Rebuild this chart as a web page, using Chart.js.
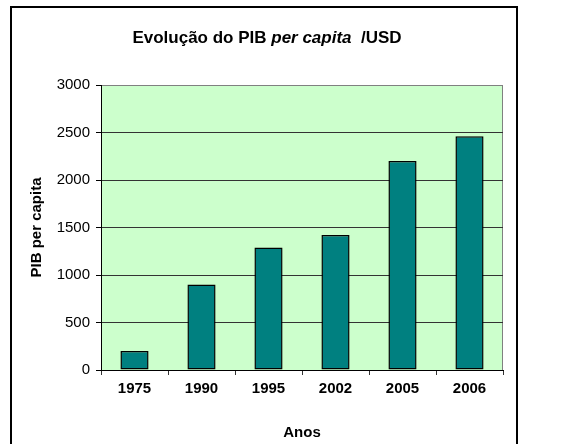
<!DOCTYPE html>
<html>
<head>
<meta charset="utf-8">
<script src="https://cdn.jsdelivr.net/npm/chart.js@4/dist/chart.umd.min.js"></script>
<style>
  html, body { margin: 0; padding: 0; background: #fff; overflow: hidden; }
  #wrap { position: relative; width: 587px; height: 444px; }
</style>
</head>
<body>
<div id="wrap"><canvas id="grafico" width="587" height="444"></canvas></div>
<script>
const anos = ["1975", "1990", "1995", "2002", "2005", "2006"];
const pibPerCapita = [200, 900, 1290, 1420, 2200, 2460];
const eixoY = { min: 0, max: 3000, passo: 500 };

const FONTE = "'Liberation Sans', Arial, sans-serif";

// moldura externa, fundo verde da área do gráfico e título com "per capita" em itálico
const decoracao = {
  id: "decoracao",
  beforeDraw(chart) {
    const { ctx, chartArea: a } = chart;
    ctx.save();
    ctx.fillStyle = "#fff";
    ctx.fillRect(0, 0, chart.width, chart.height);
    ctx.strokeStyle = "#000";
    ctx.lineWidth = 2;
    ctx.strokeRect(11, 7, 506, 460);
    ctx.fillStyle = "#CCFFCC";
    ctx.fillRect(a.left, a.top, a.right - a.left, a.bottom - a.top);
    ctx.strokeStyle = "#808080";
    ctx.lineWidth = 1;
    ctx.beginPath();
    ctx.moveTo(a.left, a.top + 0.5);
    ctx.lineTo(a.right - 0.5, a.top + 0.5);
    ctx.lineTo(a.right - 0.5, a.bottom);
    ctx.stroke();

    const partes = [
      { t: "Evolução do PIB ", f: "bold 17px " + FONTE },
      { t: "per capita", f: "italic bold 17px " + FONTE },
      { t: "  /USD", f: "bold 17px " + FONTE },
    ];
    let total = 0;
    partes.forEach((p) => {
      ctx.font = p.f;
      p.w = ctx.measureText(p.t).width;
      total += p.w;
    });
    let x = 267 - total / 2;
    ctx.fillStyle = "#000";
    ctx.textBaseline = "middle";
    ctx.textAlign = "left";
    partes.forEach((p) => {
      ctx.font = p.f;
      ctx.fillText(p.t, x, 38);
      x += p.w;
    });
    ctx.restore();
  },
};

new Chart(document.getElementById("grafico"), {
  type: "bar",
  data: {
    labels: anos,
    datasets: [
      {
        label: "PIB per capita",
        data: pibPerCapita,
        backgroundColor: "#008080",
        borderColor: "#000",
        borderWidth: 1.5,
        borderSkipped: false,
        barPercentage: 0.42,
        categoryPercentage: 1,
      },
    ],
  },
  options: {
    responsive: false,
    animation: false,
    layout: { padding: { top: 85, left: 18, right: 84, bottom: 0 } },
    plugins: {
      legend: { display: false },
      title: { display: false },
      tooltip: { enabled: false },
    },
    scales: {
      x: {
        afterFit(scale) {
          scale.height = 74;
        },
        grid: {
          display: true,
          drawOnChartArea: false,
          drawTicks: true,
          tickLength: 5,
          color: "#333",
          offset: true,
        },
        border: { color: "#000", width: 1 },
        ticks: {
          color: "#000",
          padding: 5,
          font: { family: FONTE, size: 15, weight: "bold" },
        },
        title: {
          display: true,
          text: "Anos",
          color: "#000",
          padding: { top: 0, bottom: 2 },
          font: { family: FONTE, size: 15, weight: "bold" },
        },
      },
      y: {
        min: eixoY.min,
        max: eixoY.max,
        afterFit(scale) {
          scale.width = 83;
        },
        grid: {
          color: (c) => (c.tick && c.tick.value === eixoY.max ? "#808080" : "#333"),
          tickColor: "#000",
          tickLength: 5,
        },
        border: { color: "#000", width: 1 },
        ticks: {
          stepSize: eixoY.passo,
          color: "#000",
          padding: 6,
          font: { family: FONTE, size: 15 },
          callback: (v) => String(v),
        },
        title: {
          display: true,
          text: "PIB per capita",
          color: "#000",
          padding: { top: 10, bottom: 0 },
          font: { family: FONTE, size: 15, weight: "bold" },
        },
      },
    },
  },
  plugins: [decoracao],
});
</script>
</body>
</html>
